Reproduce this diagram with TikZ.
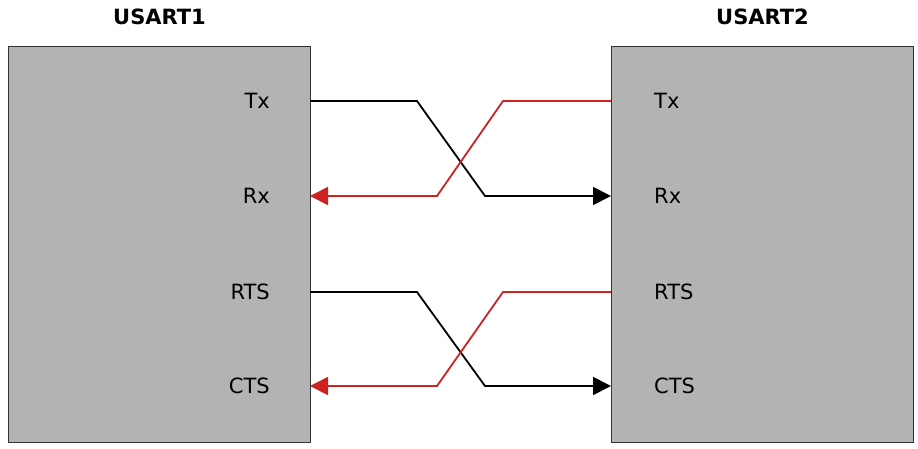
\documentclass[tikz,border=0pt]{standalone}
\usepackage{fontspec}
\setmainfont{DejaVu Sans}
\usetikzlibrary{arrows.meta,positioning}
\definecolor{boxgray}{RGB}{179,179,179}
\definecolor{sigred}{RGB}{204,34,34}
\tikzset{usart/.style={draw=black!80,line width=1pt,fill=boxgray,minimum width=302pt,minimum height=396pt,inner sep=0pt,anchor=north west},
  title/.style={font=\fontsize{21}{25}\selectfont\bfseries,inner sep=0pt,text depth=0pt},
  pinlabel/.style={font=\fontsize{21}{25}\selectfont,inner sep=0pt,text depth=0pt},
  wire/.style={line width=1.8pt,-{Triangle[length=18pt,width=18pt]}}}

\begin{document}
\begin{tikzpicture}[x=1pt,y=-1pt]
  \useasboundingbox (0,0) rectangle (918,448);
  \node[usart] (u1) at (8,46) {};
  \node[usart] (u2) at (611,46) {};
  \node[title,above=21.5pt of u1] (t1) {USART1};
  \node[title,above=21.5pt of u2] (t2) {USART2};
  % pin labels
  \node[pinlabel,anchor=east] (tx1) at (270,101) {Tx};
  \node[pinlabel,anchor=east] (rx1) at (270,196) {Rx};
  \node[pinlabel,anchor=east] (rts1) at (270,292) {RTS};
  \node[pinlabel,anchor=east] (cts1) at (270,386) {CTS};
  \node[pinlabel,anchor=west] (tx2) at (654,101) {Tx};
  \node[pinlabel,anchor=west] (rx2) at (654,196) {Rx};
  \node[pinlabel,anchor=west] (rts2) at (654,292) {RTS};
  \node[pinlabel,anchor=west] (cts2) at (654,386) {CTS};
  % pins on the box edges
  \coordinate (ptx1) at (310,101);
  \coordinate (prx1) at (310,196);
  \coordinate (prts1) at (310,292);
  \coordinate (pcts1) at (310,386);
  \coordinate (ptx2) at (611,101);
  \coordinate (prx2) at (611,196);
  \coordinate (prts2) at (611,292);
  \coordinate (pcts2) at (611,386);
  % crossed wires
  \draw[wire] (ptx1) -- (417,101) -- (485,196) -- (prx2);
  \draw[wire,sigred] (ptx2) -- (503,101) -- (437,196) -- (prx1);
  \draw[wire] (prts1) -- (417,292) -- (485,386) -- (pcts2);
  \draw[wire,sigred] (prts2) -- (503,292) -- (437,386) -- (pcts1);
\end{tikzpicture}
\end{document}
